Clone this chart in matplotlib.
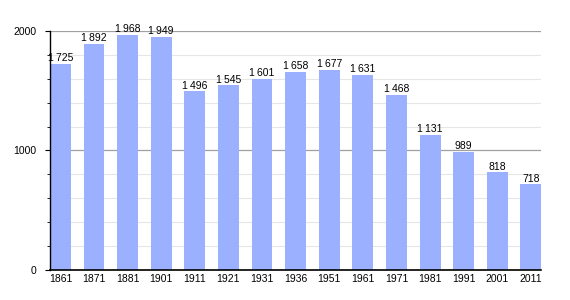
import matplotlib
matplotlib.use("Agg")
import matplotlib.pyplot as plt
from matplotlib.ticker import MultipleLocator

plt.rcParams["font.family"] = ["Liberation Sans", "DejaVu Sans"]

years = ["1861", "1871", "1881", "1901", "1911", "1921", "1931", "1936",
         "1951", "1961", "1971", "1981", "1991", "2001", "2011"]
population = [1725, 1892, 1968, 1949, 1496, 1545, 1601, 1658,
              1677, 1631, 1468, 1131, 989, 818, 718]

BAR_COLOR = "#9bb0fe"

fig = plt.figure(figsize=(5.7, 3.0), dpi=100)
ax = fig.add_axes([0.0877, 0.1, 0.862, 0.7967])

x = list(range(len(years)))
ax.bar(x, population, width=0.62, color=BAR_COLOR, zorder=2)

for xi, v in zip(x, population):
    label = f"{v:,}".replace(",", "\u2009")
    ax.text(xi, v + 5, label, ha="center", va="bottom", fontsize=7.5, zorder=3)

ax.set_xlim(-0.31, 14.31)
ax.set_ylim(0, 2000)
ax.set_xticks(x)
ax.set_xticklabels(years, fontsize=7.5)
ax.tick_params(axis="x", length=0, pad=3)

ax.yaxis.set_major_locator(MultipleLocator(1000))
ax.yaxis.set_minor_locator(MultipleLocator(200))
ax.tick_params(axis="y", which="major", length=3.6, labelsize=7.5, pad=6)
ax.tick_params(axis="y", which="minor", length=2)
ax.grid(axis="y", which="major", color="#a0a0a0", linewidth=0.9, zorder=0)
ax.grid(axis="y", which="minor", color="#e6e6e6", linewidth=0.8, zorder=0)

for side in ["top", "right"]:
    ax.spines[side].set_visible(False)
ax.spines["left"].set_linewidth(1.0)
ax.spines["bottom"].set_linewidth(1.2)

fig.savefig("out.png", dpi=100)
